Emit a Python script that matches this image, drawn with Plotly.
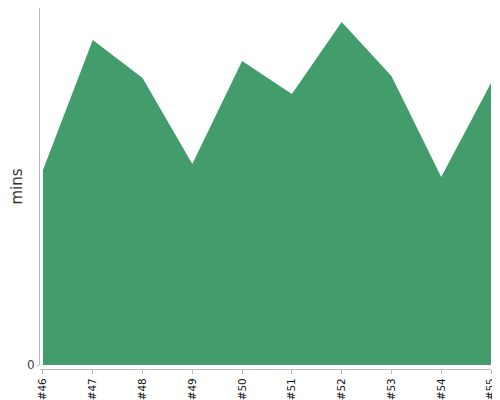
import plotly.graph_objects as go

# episodios y duración en minutos
episodes = ["#46", "#47", "#48", "#49", "#50", "#51", "#52", "#53", "#54", "#55"]
minutes = [19.5, 32.5, 28.7, 20.1, 30.4, 27.1, 34.3, 28.9, 18.8, 28.2]

fig = go.Figure(
    go.Scatter(
        x=episodes,
        y=minutes,
        mode="lines",
        fill="tozeroy",
        fillcolor="#439C6C",
        line=dict(width=0, color="#439C6C"),
        hoverinfo="x+y",
    )
)

# la página tiene 8px de margen en el body, se compensa aquí
fig.update_layout(
    width=492,
    height=392,
    margin=dict(l=32, r=9, t=0, b=31, autoexpand=False),
    plot_bgcolor="white",
    paper_bgcolor="white",
    showlegend=False,
    font=dict(family="DejaVu Sans", color="#444"),
    xaxis=dict(
        type="category",
        range=[-0.06, 9],
        anchor="free",
        position=0,
        automargin=False,
        showgrid=False,
        showline=True,
        linecolor="#bbb",
        linewidth=1,
        ticks="outside",
        ticklen=4,
        tickcolor="#bbb",
        tickangle=-90,
        tickfont=dict(size=10.5, color="#111"),
    ),
    yaxis=dict(
        domain=[4 / 361, 1],
        range=[0, 35.7],
        automargin=False,
        showgrid=False,
        zeroline=False,
        showline=True,
        linecolor="#bbb",
        linewidth=1,
        tickvals=[0],
        ticktext=["0"],
        ticks="outside",
        ticklen=2,
        tickcolor="#bbb",
        tickfont=dict(size=12, color="#444"),
        title=dict(text="mins", font=dict(size=15, color="#333"), standoff=10),
    ),
)

fig.write_html("out.html")
